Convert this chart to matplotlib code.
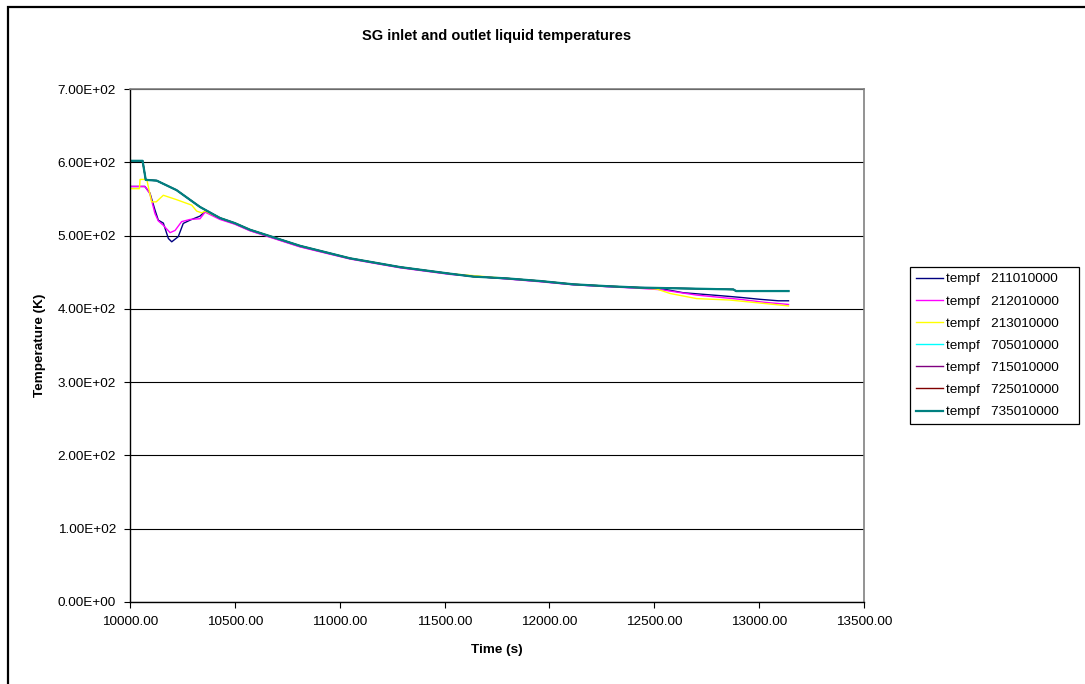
import matplotlib
matplotlib.use("Agg")
import matplotlib.pyplot as plt
from matplotlib.ticker import FormatStrFormatter
from matplotlib.patches import Rectangle

plt.rcParams['font.family'] = ['Liberation Sans', 'DejaVu Sans']

title = "SG inlet and outlet liquid temperatures"
xlabel = "Time (s)"
ylabel = "Temperature (K)"

# SG outlet volumes (705, 715, 725, 735 coincide)
t_out = [10000, 10060, 10075, 10127, 10222, 10334, 10429, 10500, 10572, 10811,
         11049, 11288, 11526, 11637, 11796, 11955, 12114, 12273, 12432, 12877,
         12890, 13140]
T_out = [602, 602, 576, 575, 562, 539, 524, 517, 508, 486,
         469, 457, 448, 444, 441.6, 438, 433.5, 431, 429, 426.5,
         424.3, 424.3]

# inlet 211
t_211 = [10000, 10071, 10095, 10119, 10135, 10159, 10183, 10199, 10230, 10254,
         10286, 10334, 10358, 10429, 10500, 10572, 10811, 11049, 11288, 11526,
         11796, 11955, 12114, 12273, 12432, 12535, 12638, 12814, 12909, 13004,
         13092, 13140]
T_211 = [567, 567, 558, 535, 521, 517, 496, 491.5, 498.5, 516.6,
         521, 526.6, 533, 523, 516, 507, 485, 468.5, 456.5, 447.5,
         441, 437.5, 433, 430.5, 428.5, 427.5, 422, 418, 415.7, 413,
         411, 411]

# inlet 212
t_212 = [10000, 10071, 10095, 10119, 10135, 10159, 10191, 10215, 10246, 10286,
         10334, 10358, 10429, 10500, 10572, 10811, 11049, 11288, 11526, 11796,
         11955, 12114, 12273, 12432, 12535, 12702, 12909, 13024, 13140]
T_212 = [567, 567, 557, 530, 520, 514, 504, 507, 519, 522,
         523, 532, 522, 515.5, 506.5, 484.5, 468, 456, 447, 440.8,
         437, 432.8, 430.3, 428, 426, 418.8, 413, 409, 406]

# inlet 213
t_213 = [10000, 10045, 10048, 10080, 10103, 10125, 10159, 10222, 10270, 10294,
         10318, 10342, 10358, 10429, 10500, 10572, 10811, 11049, 11288, 11526,
         11796, 11955, 12114, 12273, 12432, 12512, 12575, 12702, 12861, 13020,
         13140]
T_213 = [564, 564, 576.6, 576.6, 546, 546, 555, 549, 544, 541.6,
         533.4, 531, 533.4, 524, 517, 508, 486, 469, 457, 448,
         441.6, 438, 433.5, 431, 428.8, 427, 421, 414, 412, 407.5,
         404]

labels = ["tempf   211010000", "tempf   212010000", "tempf   213010000",
          "tempf   705010000", "tempf   715010000", "tempf   725010000",
          "tempf   735010000"]
colors = ["#000080", "#FF00FF", "#FFFF00", "#00FFFF", "#800080", "#800000", "#008080"]
series_t = [t_211, t_212, t_213, t_out, t_out, t_out, t_out]
series_T = [T_211, T_212, T_213, T_out, T_out, T_out, T_out]
widths = [1.0, 1.0, 1.0, 1.0, 1.0, 1.0, 1.6]

fig = plt.figure(figsize=(10.85, 6.84), dpi=100)
fig.patch.set_facecolor("white")
# outer frame (left and top visible)
fig.add_artist(Rectangle((8 / 1085, -0.1), 1.2, 1.1 - 7 / 684,
                         transform=fig.transFigure, fill=False,
                         edgecolor="black", linewidth=1.6))

ax = fig.add_axes([130 / 1085, 1 - 602 / 684, (864 - 130) / 1085, (602 - 89) / 684])

for t, T, c, lab, w in zip(series_t, series_T, colors, labels, widths):
    ax.plot(t, T, color=c, lw=w, label=lab)

ax.set_xlim(10000, 13500)
ax.set_ylim(0, 700)
ax.set_xticks([10000 + 500 * i for i in range(8)])
ax.set_yticks([100 * i for i in range(8)])
ax.xaxis.set_major_formatter(FormatStrFormatter('%.2f'))
ax.yaxis.set_major_formatter(FormatStrFormatter('%.2E'))
ax.tick_params(axis='both', direction='out', length=4, width=0.8,
               labelsize=9.7, colors='black', pad=6)
ax.yaxis.grid(True, color='black', lw=0.8)
ax.set_axisbelow(True)
for s in ['top', 'right']:
    ax.spines[s].set_color('#808080')
    ax.spines[s].set_linewidth(1.2)
for s in ['left', 'bottom']:
    ax.spines[s].set_color('black')
    ax.spines[s].set_linewidth(1.0)

ax.set_title(title, fontsize=10.5, fontweight='bold', pad=35)
ax.set_xlabel(xlabel, fontsize=9.7, fontweight='bold', labelpad=11.5)
ax.set_ylabel(ylabel, fontsize=9.7, fontweight='bold', labelpad=8)

leg = fig.legend(loc='upper left',
                 bbox_to_anchor=(910 / 1085, 1 - 423 / 684, 169 / 1085, 156 / 684),
                 mode='expand',
                 fontsize=9.7, frameon=True, fancybox=False, framealpha=1,
                 edgecolor='black', handlelength=2.0, handletextpad=0.25,
                 labelspacing=0.72, borderpad=0.45, borderaxespad=0)
leg.get_frame().set_linewidth(0.9)

fig.savefig("out.png", dpi=100)
